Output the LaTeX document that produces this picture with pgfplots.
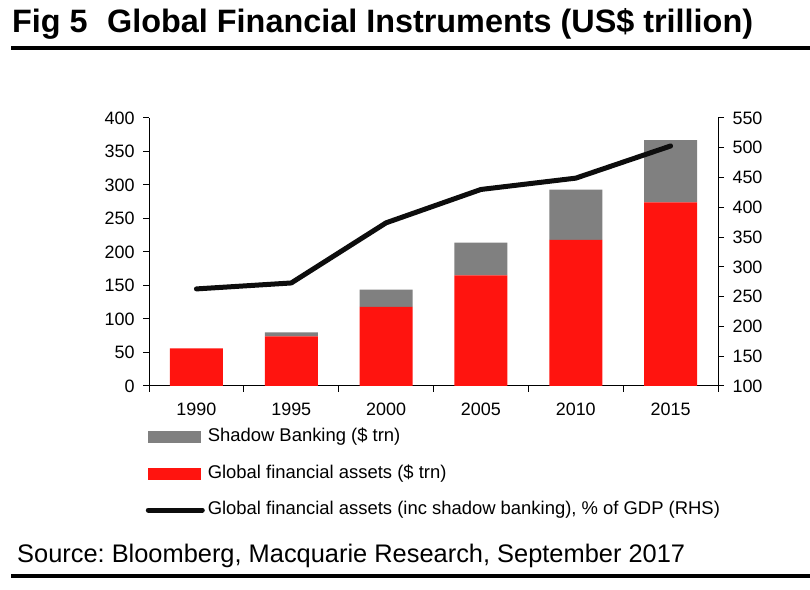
\documentclass[border=0pt]{standalone}
\usepackage{pgfplots}
\pgfplotsset{compat=1.18}
\usepackage{fontspec}
\setmainfont{Liberation Sans}
\frenchspacing
\definecolor{barred}{RGB}{255,20,15}
\definecolor{bargray}{RGB}{128,128,128}

\begin{document}
\begin{tikzpicture}[x=1bp,y=1bp]
\path[use as bounding box] (0,0) rectangle (810,590);
% title and rules
\node[anchor=base west, inner sep=0pt, font=\fontsize{32.5}{36}\selectfont\bfseries] at (12,557) {Fig 5};
\node[anchor=base west, inner sep=0pt, font=\fontsize{32.5}{36}\selectfont\bfseries] at (107,557) {Global Financial Instruments (US\$ trillion)};
\draw[line width=4bp] (11,542) -- (810,542);
\node[anchor=base west, inner sep=0pt, font=\fontsize{25.5}{28}\selectfont] at (17,27) {Source: Bloomberg, Macquarie Research, September 2017};
\draw[line width=4.5bp] (11,14) -- (810,14);

\begin{axis}[
  at={(149bp,204bp)}, anchor=south west,
  scale only axis, width=569bp, height=268bp,
  axis x line*=bottom, axis y line*=left,
  xmin=-0.5, xmax=5.5, ymin=0, ymax=400,
  ytick={0,50,...,400},
  xtick={-0.5,0.5,...,5.5}, xticklabels={},
  extra x ticks={0,1,2,3,4,5},
  extra x tick labels={1990,1995,2000,2005,2010,2015},
  extra x tick style={major tick length=0pt},
  tick align=outside, major tick length=6bp,
  tick style={black, line width=1bp},
  axis line style={line width=1bp},
  ticklabel style={font=\fontsize{18}{20}\selectfont},
  /pgf/number format/assume math mode=true,
  yticklabel style={xshift=-5bp},
  xticklabel style={yshift=-13bp},
  ybar stacked, bar width=53bp,
]
\addplot[fill=barred, draw=none] coordinates {(0,56) (1,74) (2,118) (3,165) (4,218) (5,274)};
\addplot[fill=bargray, draw=none] coordinates {(0,0) (1,6) (2,26) (3,49) (4,75) (5,93)};
\end{axis}

\begin{axis}[
  at={(149bp,204bp)}, anchor=south west,
  scale only axis, width=569bp, height=268bp,
  axis x line=none, axis y line*=right,
  xmin=-0.5, xmax=5.5, ymin=100, ymax=550,
  ytick={100,150,...,550},
  tick align=outside, major tick length=6bp,
  tick style={black, line width=1bp},
  axis line style={line width=1bp},
  ticklabel style={font=\fontsize{18}{20}\selectfont},
  yticklabel style={xshift=5bp},
  /pgf/number format/assume math mode=true,
  legend style={at={(-0.006,-0.158)}, anchor=north west, draw=none, fill=none,
    font=\fontsize{18.5}{20}\selectfont,
    nodes={inner xsep=3bp, inner ysep=0pt, text height=13bp, text depth=4bp},
    row sep=19.5bp, inner sep=0pt},
  legend cell align=left,
]
\addlegendimage{legend image code/.code={\fill[bargray] (0bp,-5.5bp) rectangle (52bp,5.5bp);}}
\addlegendentry{Shadow Banking (\$ trn)}
\addlegendimage{legend image code/.code={\fill[barred] (0bp,-5.5bp) rectangle (52bp,5.5bp);}}
\addlegendentry{Global financial assets (\$ trn)}
\addplot[black!95, line width=5bp, line cap=round, line join=round,
  legend image code/.code={\draw[black!95, line width=5bp, line cap=round] (0bp,0bp) -- (54bp,0bp);}]
  coordinates {(0,263) (1,273) (2,374) (3,430) (4,449) (5,503)};
\addlegendentry{Global financial assets (inc shadow banking), \% of GDP (RHS)}
\end{axis}
\end{tikzpicture}
\end{document}
